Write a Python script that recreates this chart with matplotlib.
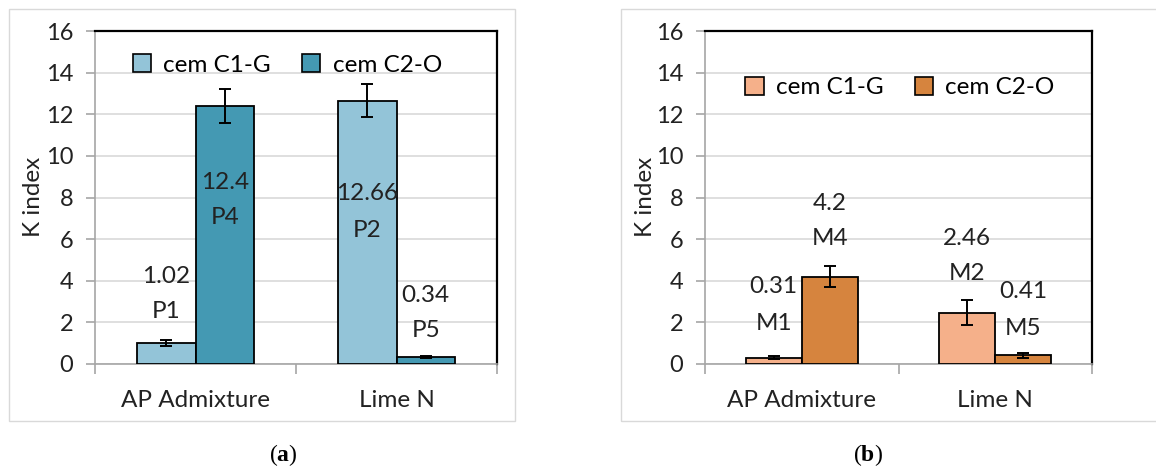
import matplotlib
matplotlib.use("Agg")
import matplotlib.pyplot as plt
from matplotlib.patches import Rectangle, Patch
import numpy as np

plt.rcParams['font.family'] = ['Lato', 'DejaVu Sans']
plt.rcParams['mathtext.fontset'] = 'custom'
plt.rcParams['mathtext.bf'] = 'Liberation Serif:bold'
plt.rcParams['mathtext.rm'] = 'Liberation Serif'

categories = ["AP Admixture", "Lime N"]
series = ["cem C1-G", "cem C2-O"]

# panel (a): P-series
a_c1 = [1.02, 12.66]
a_c2 = [12.4, 0.34]
a_c1_err = [0.15, 0.8]
a_c2_err = [0.8, 0.05]
a_c1_names = ["P1", "P2"]
a_c2_names = ["P4", "P5"]

# panel (b): M-series
b_c1 = [0.31, 2.46]
b_c2 = [4.2, 0.41]
b_c1_err = [0.08, 0.6]
b_c2_err = [0.5, 0.1]
b_c1_names = ["M1", "M2"]
b_c2_names = ["M4", "M5"]

colors_a = ["#93C4D8", "#4499B3"]
colors_b = ["#F5B08A", "#D6843E"]

TXT = "#222222"
FS = 17.5

W, H = 1156, 472
fig = plt.figure(figsize=(W / 100, H / 100), dpi=100)

# light frames around each chart
for x0, x1 in [(9, 515), (621, 1160)]:
    fig.patches.append(Rectangle((x0 / W, 1 - 421 / H), (x1 - x0) / W, (421 - 9) / H,
                                 transform=fig.transFigure, fill=False,
                                 edgecolor="#D9D9D9", lw=1.0, zorder=0))


def panel(left_px, right_px, c1, c2, e1, e2, n1, n2, colors,
          lab1_y, lab2_y, leg_xy, ylab_x):
    ax = fig.add_axes([left_px / W, 1 - 364 / H, (right_px - left_px) / W, 333 / H])
    x = np.arange(len(categories))
    bw = 0.29
    ax.bar(x - bw / 2, c1, bw, color=colors[0], edgecolor="black", lw=1.3, zorder=3)
    ax.bar(x + bw / 2, c2, bw, color=colors[1], edgecolor="black", lw=1.3, zorder=3)
    ax.errorbar(x - bw / 2, c1, yerr=e1, fmt="none", ecolor="black", elinewidth=1.4,
                capsize=4.5, capthick=1.4, zorder=4)
    ax.errorbar(x + bw / 2, c2, yerr=e2, fmt="none", ecolor="black", elinewidth=1.4,
                capsize=4.5, capthick=1.4, zorder=4)

    for i in range(len(categories)):
        for xs, vals, names, ly in [(x - bw / 2, c1, n1, lab1_y), (x + bw / 2, c2, n2, lab2_y)]:
            ax.text(xs[i], ly[i][0], f"{vals[i]:g}", ha="center", va="center",
                    fontsize=FS, color=TXT, zorder=5)
            ax.text(xs[i], ly[i][1], names[i], ha="center", va="center",
                    fontsize=FS, color=TXT, zorder=5)

    ax.set_xlim(-0.5, 1.5)
    ax.set_ylim(0, 16)
    ax.set_yticks(range(0, 17, 2))
    ax.tick_params(axis="y", labelsize=17, length=6.5, color="#A6A6A6", width=1.2,
                   pad=9, labelcolor=TXT)
    ax.yaxis.grid(True, color="#D9D9D9", lw=1.2, zorder=0)
    ax.set_axisbelow(True)
    ax.set_xticks([-0.5, 0.5, 1.5])
    ax.set_xticklabels([])
    ax.set_xticks(x, minor=True)
    ax.set_xticklabels(categories, minor=True, fontsize=FS, color=TXT)
    ax.tick_params(axis="x", which="major", length=7, color="#A6A6A6", width=1.2)
    ax.tick_params(axis="x", which="minor", length=0, pad=19)
    for s in ["left", "bottom"]:
        ax.spines[s].set_color("#A6A6A6")
        ax.spines[s].set_linewidth(1.2)
    for s in ["top", "right"]:
        ax.spines[s].set_color("black")
        ax.spines[s].set_linewidth(1.6)

    handles = [Patch(facecolor=colors[0], edgecolor="black", lw=1.2),
               Patch(facecolor=colors[1], edgecolor="black", lw=1.2)]
    ax.legend(handles, series, loc="center", bbox_to_anchor=leg_xy, ncol=2,
              frameon=False, fontsize=FS, handlelength=0.75, handleheight=0.75,
              handletextpad=0.5, columnspacing=1.3)
    fig.text(ylab_x / W, 1 - 197 / H, "K index", rotation=90, ha="center", va="center",
             fontsize=FS, color=TXT)
    return ax


panel(95, 497, a_c1, a_c2, a_c1_err, a_c2_err, a_c1_names, a_c2_names, colors_a,
      [(4.2, 2.5), (8.2, 6.4)], [(8.7, 7.05), (3.3, 1.6)], (0.478, 0.898), 33)
panel(705, 1092, b_c1, b_c2, b_c1_err, b_c2_err, b_c1_names, b_c2_names, colors_b,
      [(3.7, 1.95), (6.05, 4.35)], [(7.7, 6.05), (3.47, 1.7)], (0.504, 0.83), 645)

fig.text(283 / W, 1 - 455 / H, r"($\mathbf{a}$)", ha="center", va="center",
         fontsize=17, family="Liberation Serif")
fig.text(868 / W, 1 - 455 / H, r"($\mathbf{b}$)", ha="center", va="center",
         fontsize=17, family="Liberation Serif")

fig.savefig("out.png", dpi=100, facecolor="white")
